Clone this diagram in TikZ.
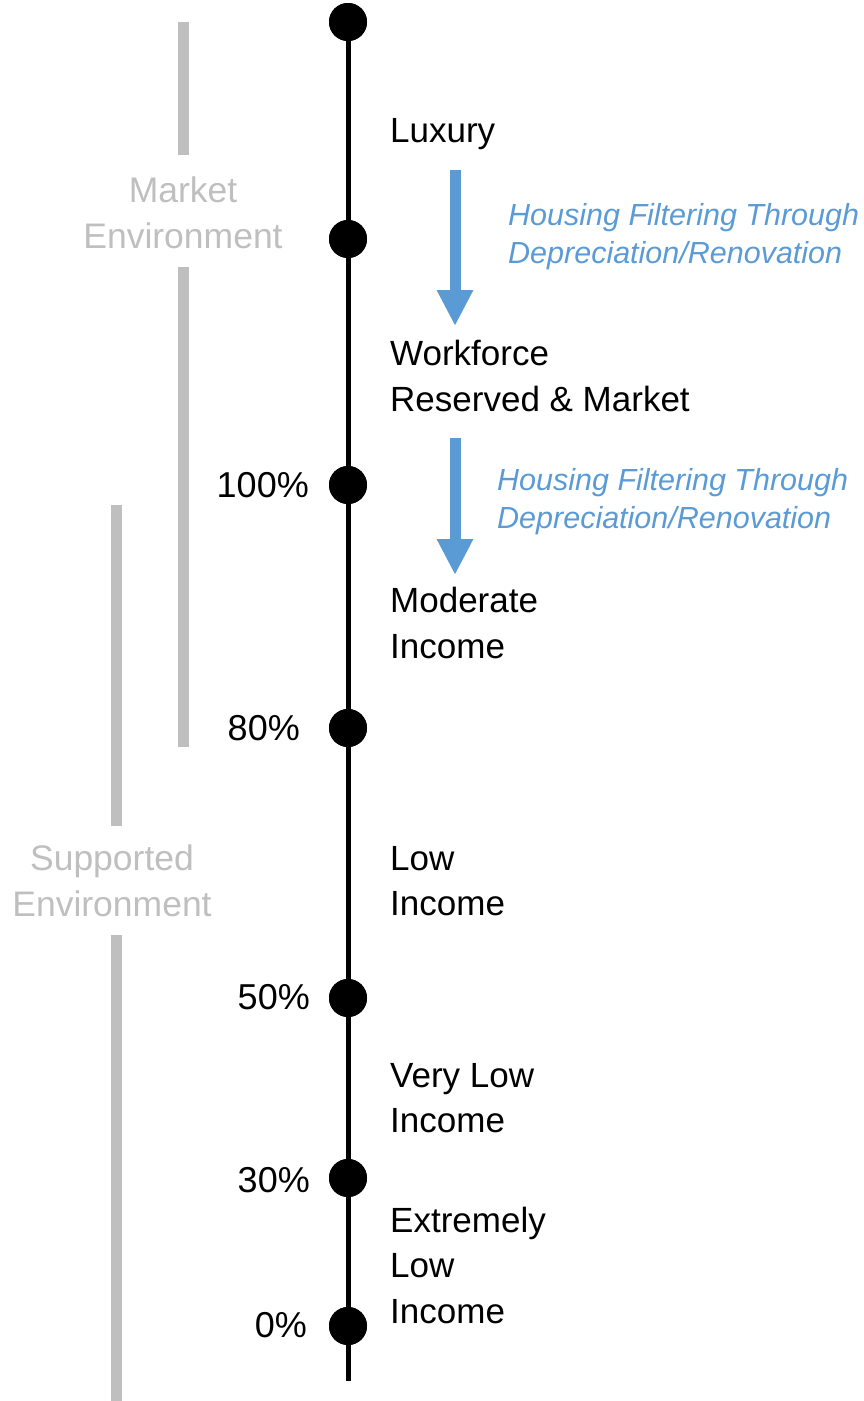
\documentclass[tikz,border=0pt]{standalone}
\usepackage{fontspec}
\setmainfont{Liberation Sans}
\usetikzlibrary{arrows.meta}
\definecolor{barGray}{RGB}{191,191,191}
\definecolor{flowBlue}{RGB}{91,155,213}
\begin{document}
\begin{tikzpicture}[x=1pt,y=-1pt,
  dot/.style={circle,fill=black,inner sep=0pt,minimum size=38pt},
  axis/.style={line width=5pt,black},
  bar/.style={line width=11pt,barGray},
  lbl/.style={inner sep=0pt,anchor=west,align=left,font=\fontsize{35}{45.5}\selectfont},
  pct/.style={inner sep=0pt,anchor=east,font=\fontsize{36}{42}\selectfont},
  envtxt/.style={inner sep=0pt,align=center,text=barGray,font=\fontsize{35.5}{46}\selectfont},
  flowtxt/.style={inner sep=0pt,anchor=west,align=left,text=flowBlue,font=\fontsize{30.5}{38}\selectfont\itshape},
  flow/.style={line width=11pt,flowBlue,-{Triangle[width=34pt,length=36pt]}}]
\useasboundingbox (0,0) rectangle (863,1401);
% gray bars
\node[envtxt] (market) at (183,213) {Market\\Environment};
\node[envtxt] (supported) at (112,881) {Supported\\Environment};
\draw[bar] (183,22) -- (183,155);
\draw[bar] (183,267) -- (183,747);
\draw[bar] (116,505) -- (116,826);
\draw[bar] (116,935) -- (116,1401);
% axis
\coordinate (bottom) at (348,1381);
\node[dot] (d0) at (348,22) {};
\node[dot] (d1) at (348,239) {};
\node[dot] (d2) at (348,485) {};
\node[dot] (d3) at (348,728) {};
\node[dot] (d4) at (348,998) {};
\node[dot] (d5) at (348,1178) {};
\node[dot] (d6) at (348,1326) {};
\draw[axis] (d0.center) -- (bottom);
\foreach \n in {d0,d1,d2,d3,d4,d5,d6} \node[dot] at (\n) {};
% percentages
\node[pct] (p100) at (309,485) {100\%};
\node[pct] (p80) at (300,728) {80\%};
\node[pct] (p50) at (310,997) {50\%};
\node[pct] (p30) at (310,1180) {30\%};
\node[pct] (p0) at (307,1325) {0\%};
% category labels
\node[lbl] (lux) at (390,134) {Luxury};
\node[lbl] (work) at (390,376) {Workforce\\Reserved \& Market};
\node[lbl] (mod) at (390,623) {Moderate\\Income};
\node[lbl] (low) at (390,881) {Low\\Income};
\node[lbl] (vlow) at (390,1098) {Very Low\\Income};
\node[lbl] (elow) at (390,1265) {Extremely\\Low\\Income};
% filtering arrows
\coordinate (a1s) at (455,170);
\coordinate (a1e) at (455,326);
\coordinate (a2s) at (455,438);
\coordinate (a2e) at (455,575);
\draw[flow] (a1s) -- (a1e);
\draw[flow] (a2s) -- (a2e);
\node[flowtxt] (f1) at (508,237) {Housing Filtering Through\\Depreciation/Renovation};
\node[flowtxt] (f2) at (497,502) {Housing Filtering Through\\Depreciation/Renovation};
\end{tikzpicture}
\end{document}
